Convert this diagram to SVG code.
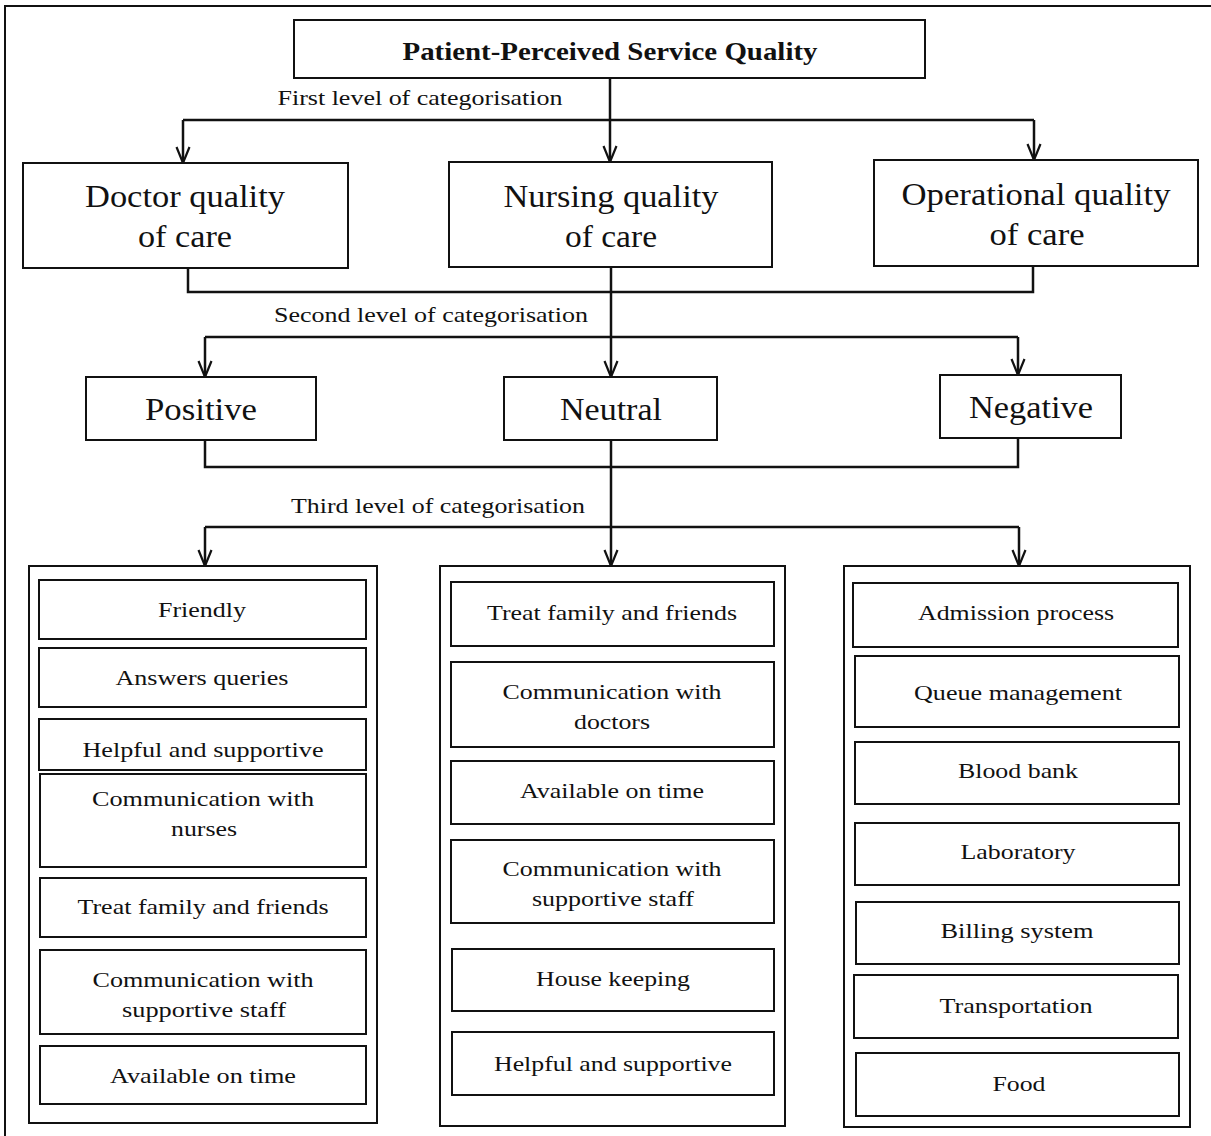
<svg xmlns="http://www.w3.org/2000/svg" width="1211" height="1136" viewBox="0 0 1211 1136">
<style>
  .box{fill:#fff;stroke:#111;stroke-width:2}
  .cont{fill:#fff;stroke:#111;stroke-width:2}
  .ln{fill:none;stroke:#111;stroke-width:2.5}
  .t{font-family:"Liberation Serif","Times New Roman",serif;fill:#111;text-anchor:middle}
  .title{font-size:25px;font-weight:bold}
  .lvl{font-size:21px}
  .big{font-size:31px}
  .mid{font-size:31px}
  .item{font-size:22px}
</style>
<defs>
  <marker id="arr" markerUnits="userSpaceOnUse" markerWidth="18" markerHeight="16" viewBox="0 0 18 16" refX="17" refY="8" orient="auto">
    <path d="M1,1.5 L17,8 L1,14.5" fill="none" stroke="#111" stroke-width="2.2"/>
  </marker>
</defs>
<rect width="1211" height="1136" fill="#fff"/>
<rect x="5" y="6" width="1230" height="1150" fill="none" stroke="#111" stroke-width="2"/>

<g id="connectors">
  <path class="ln" d="M610,78 V162" marker-end="url(#arr)"/>
  <path class="ln" d="M183,120 H1034"/>
  <path class="ln" d="M183,120 V163" marker-end="url(#arr)"/>
  <path class="ln" d="M1034,120 V160" marker-end="url(#arr)"/>
  <path class="ln" d="M188,268 V292 H1033 V266"/>
  <path class="ln" d="M611,267 V377" marker-end="url(#arr)"/>
  <path class="ln" d="M205,337 H1018"/>
  <path class="ln" d="M205,337 V377" marker-end="url(#arr)"/>
  <path class="ln" d="M1018,337 V375" marker-end="url(#arr)"/>
  <path class="ln" d="M205,440 V467 H1018 V438"/>
  <path class="ln" d="M611,440 V566" marker-end="url(#arr)"/>
  <path class="ln" d="M205,527 H1019"/>
  <path class="ln" d="M205,527 V566" marker-end="url(#arr)"/>
  <path class="ln" d="M1019,527 V566" marker-end="url(#arr)"/>
  <text class="t lvl" x="420" y="105" textLength="285" lengthAdjust="spacingAndGlyphs">First level of categorisation</text>
  <text class="t lvl" x="431" y="322" textLength="314" lengthAdjust="spacingAndGlyphs">Second level of categorisation</text>
  <text class="t lvl" x="438" y="513" textLength="294" lengthAdjust="spacingAndGlyphs">Third level of categorisation</text>
</g>

<g id="root">
  <rect class="box" x="294" y="20" width="631" height="58"/>
  <text class="t title" x="610" y="60" textLength="415" lengthAdjust="spacingAndGlyphs">Patient-Perceived Service Quality</text>
</g>

<g id="doctor">
  <rect class="box" x="23" y="163" width="325" height="105"/>
  <text class="t big" x="185" y="207" textLength="200" lengthAdjust="spacingAndGlyphs">Doctor quality</text>
  <text class="t big" x="185" y="247" textLength="94" lengthAdjust="spacingAndGlyphs">of care</text>
</g>
<g id="nursing">
  <rect class="box" x="449" y="162" width="323" height="105"/>
  <text class="t big" x="611" y="207" textLength="215" lengthAdjust="spacingAndGlyphs">Nursing quality</text>
  <text class="t big" x="611" y="247" textLength="92" lengthAdjust="spacingAndGlyphs">of care</text>
</g>
<g id="operational">
  <rect class="box" x="874" y="160" width="324" height="106"/>
  <text class="t big" x="1036" y="205" textLength="269" lengthAdjust="spacingAndGlyphs">Operational quality</text>
  <text class="t big" x="1037" y="245" textLength="95" lengthAdjust="spacingAndGlyphs">of care</text>
</g>

<g id="positive">
  <rect class="box" x="86" y="377" width="230" height="63"/>
  <text class="t mid" x="201" y="420" textLength="112" lengthAdjust="spacingAndGlyphs">Positive</text>
</g>
<g id="neutral">
  <rect class="box" x="504" y="377" width="213" height="63"/>
  <text class="t mid" x="611" y="420" textLength="102" lengthAdjust="spacingAndGlyphs">Neutral</text>
</g>
<g id="negative">
  <rect class="box" x="940" y="375" width="181" height="63"/>
  <text class="t mid" x="1031" y="418" textLength="124" lengthAdjust="spacingAndGlyphs">Negative</text>
</g>

<g id="positive-list">
  <rect class="cont" x="29" y="566" width="348" height="557"/>
  <g id="p1"><rect class="box" x="39" y="580" width="327" height="59"/><text class="t item" x="202" y="617" textLength="88" lengthAdjust="spacingAndGlyphs">Friendly</text></g>
  <g id="p2"><rect class="box" x="39" y="648" width="327" height="59"/><text class="t item" x="202" y="685" textLength="173" lengthAdjust="spacingAndGlyphs">Answers queries</text></g>
  <g id="p3"><rect class="box" x="39" y="719" width="327" height="51"/><text class="t item" x="203" y="757" textLength="241" lengthAdjust="spacingAndGlyphs">Helpful and supportive</text></g>
  <g id="p4"><rect class="box" x="40" y="774" width="326" height="93"/><text class="t item" x="203" y="806" textLength="222" lengthAdjust="spacingAndGlyphs">Communication with</text><text class="t item" x="204" y="836" textLength="66" lengthAdjust="spacingAndGlyphs">nurses</text></g>
  <g id="p5"><rect class="box" x="40" y="878" width="326" height="59"/><text class="t item" x="203" y="914" textLength="251" lengthAdjust="spacingAndGlyphs">Treat family and friends</text></g>
  <g id="p6"><rect class="box" x="40" y="950" width="326" height="84"/><text class="t item" x="203" y="987" textLength="221" lengthAdjust="spacingAndGlyphs">Communication with</text><text class="t item" x="204" y="1017" textLength="164" lengthAdjust="spacingAndGlyphs">supportive staff</text></g>
  <g id="p7"><rect class="box" x="40" y="1046" width="326" height="58"/><text class="t item" x="203" y="1083" textLength="186" lengthAdjust="spacingAndGlyphs">Available on time</text></g>
</g>

<g id="neutral-list">
  <rect class="cont" x="440" y="566" width="345" height="560"/>
  <g id="n1"><rect class="box" x="451" y="582" width="323" height="64"/><text class="t item" x="612" y="620" textLength="250" lengthAdjust="spacingAndGlyphs">Treat family and friends</text></g>
  <g id="n2"><rect class="box" x="451" y="662" width="323" height="85"/><text class="t item" x="612" y="699" textLength="219" lengthAdjust="spacingAndGlyphs">Communication with</text><text class="t item" x="612" y="729" textLength="76" lengthAdjust="spacingAndGlyphs">doctors</text></g>
  <g id="n3"><rect class="box" x="451" y="761" width="323" height="63"/><text class="t item" x="612" y="798" textLength="184" lengthAdjust="spacingAndGlyphs">Available on time</text></g>
  <g id="n4"><rect class="box" x="451" y="840" width="323" height="83"/><text class="t item" x="612" y="876" textLength="219" lengthAdjust="spacingAndGlyphs">Communication with</text><text class="t item" x="613" y="906" textLength="162" lengthAdjust="spacingAndGlyphs">supportive staff</text></g>
  <g id="n5"><rect class="box" x="452" y="949" width="322" height="62"/><text class="t item" x="613" y="986" textLength="154" lengthAdjust="spacingAndGlyphs">House keeping</text></g>
  <g id="n6"><rect class="box" x="452" y="1032" width="322" height="63"/><text class="t item" x="613" y="1071" textLength="238" lengthAdjust="spacingAndGlyphs">Helpful and supportive</text></g>
</g>

<g id="negative-list">
  <rect class="cont" x="844" y="566" width="346" height="561"/>
  <g id="g1"><rect class="box" x="853" y="583" width="325" height="64"/><text class="t item" x="1016" y="620" textLength="196" lengthAdjust="spacingAndGlyphs">Admission process</text></g>
  <g id="g2"><rect class="box" x="855" y="656" width="324" height="71"/><text class="t item" x="1018" y="700" textLength="208" lengthAdjust="spacingAndGlyphs">Queue management</text></g>
  <g id="g3"><rect class="box" x="855" y="742" width="324" height="62"/><text class="t item" x="1018" y="778" textLength="120" lengthAdjust="spacingAndGlyphs">Blood bank</text></g>
  <g id="g4"><rect class="box" x="855" y="823" width="324" height="62"/><text class="t item" x="1018" y="859" textLength="115" lengthAdjust="spacingAndGlyphs">Laboratory</text></g>
  <g id="g5"><rect class="box" x="856" y="902" width="323" height="62"/><text class="t item" x="1017" y="938" textLength="153" lengthAdjust="spacingAndGlyphs">Billing system</text></g>
  <g id="g6"><rect class="box" x="854" y="975" width="324" height="63"/><text class="t item" x="1016" y="1013" textLength="153" lengthAdjust="spacingAndGlyphs">Transportation</text></g>
  <g id="g7"><rect class="box" x="856" y="1053" width="323" height="63"/><text class="t item" x="1019" y="1091" textLength="53" lengthAdjust="spacingAndGlyphs">Food</text></g>
</g>
</svg>
